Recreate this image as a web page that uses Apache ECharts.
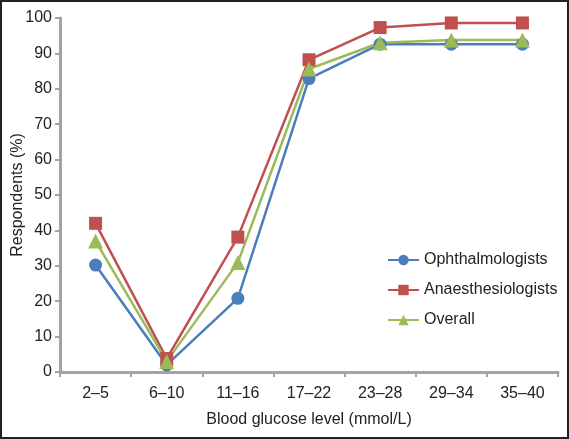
<!DOCTYPE html>
<html><head><meta charset="utf-8">
<script src="https://cdn.jsdelivr.net/npm/echarts@6/dist/echarts.min.js"></script>
<style>html,body{margin:0;padding:0;background:#fff}#c{width:569px;height:439px}</style>
</head><body><div id="c"></div>
<script>
const categories = ['2–5','6–10','11–16','17–22','23–28','29–34','35–40'];
const ophthalmologists = [30.2, 2.0, 20.8, 82.9, 92.6, 92.6, 92.6];
const anaesthesiologists = [42.0, 3.8, 38.1, 88.2, 97.3, 98.6, 98.6];
const overall = [37.0, 3.0, 30.9, 85.6, 93.0, 93.8, 93.8];
const yTicks = [0,10,20,30,40,50,60,70,80,90,100];

const chart = echarts.init(document.getElementById('c'), null, {renderer:'canvas'});
const font = 'Liberation Sans, Arial, sans-serif';
const axisGray = '#A3A3A3';
function series(name, data, color, symbol, size){
  return {name, type:'line', data, symbol, symbolSize:size,
    lineStyle:{color, width:2.5}, itemStyle:{color}, emphasis:{disabled:true}};
}
chart.setOption({
  animation:false,
  graphic:[{type:'rect', shape:{x:1,y:1,width:567,height:437}, style:{fill:null, stroke:'#222', lineWidth:2}, z:100}],
  grid:{left:60, right:11, top:18, bottom:67, containLabel:false, outerBoundsMode:'none'},
  legend:{orient:'vertical', left:382, top:247, itemWidth:31, itemHeight:13, itemGap:14,
    textStyle:{fontFamily:font, fontSize:16, color:'#222'},
    data:['Ophthalmologists','Anaesthesiologists','Overall']},
  xAxis:{type:'category', data:categories, boundaryGap:true,
    name:'Blood glucose level (mmol/L)', nameLocation:'middle', nameGap:40, nameMoveOverlap:false,
    nameTextStyle:{fontFamily:font, fontSize:16, color:'#222'},
    axisLine:{lineStyle:{color:axisGray, width:3}},
    axisTick:{show:true, length:5, lineStyle:{color:axisGray, width:2}},
    axisLabel:{fontFamily:font, fontSize:16, color:'#222', margin:14}},
  yAxis:{type:'value', min:0, max:100, interval:10,
    name:'Respondents (%)', nameLocation:'middle', nameGap:34, nameMoveOverlap:false,
    nameTextStyle:{fontFamily:font, fontSize:16, color:'#222'},
    axisLine:{show:true, lineStyle:{color:axisGray, width:3}},
    axisTick:{show:true, length:5, lineStyle:{color:axisGray, width:2}},
    splitLine:{show:false},
    axisLabel:{fontFamily:font, fontSize:16, color:'#222', margin:8,
      formatter:v=> yTicks.includes(v) ? String(v) : ''}},
  series:[
    series('Ophthalmologists', ophthalmologists, '#4A7EBB', 'circle', 13),
    series('Anaesthesiologists', anaesthesiologists, '#C0504D', 'rect', 13),
    series('Overall', overall, '#9BBB59', 'triangle', 15)
  ]
});
</script></body></html>
